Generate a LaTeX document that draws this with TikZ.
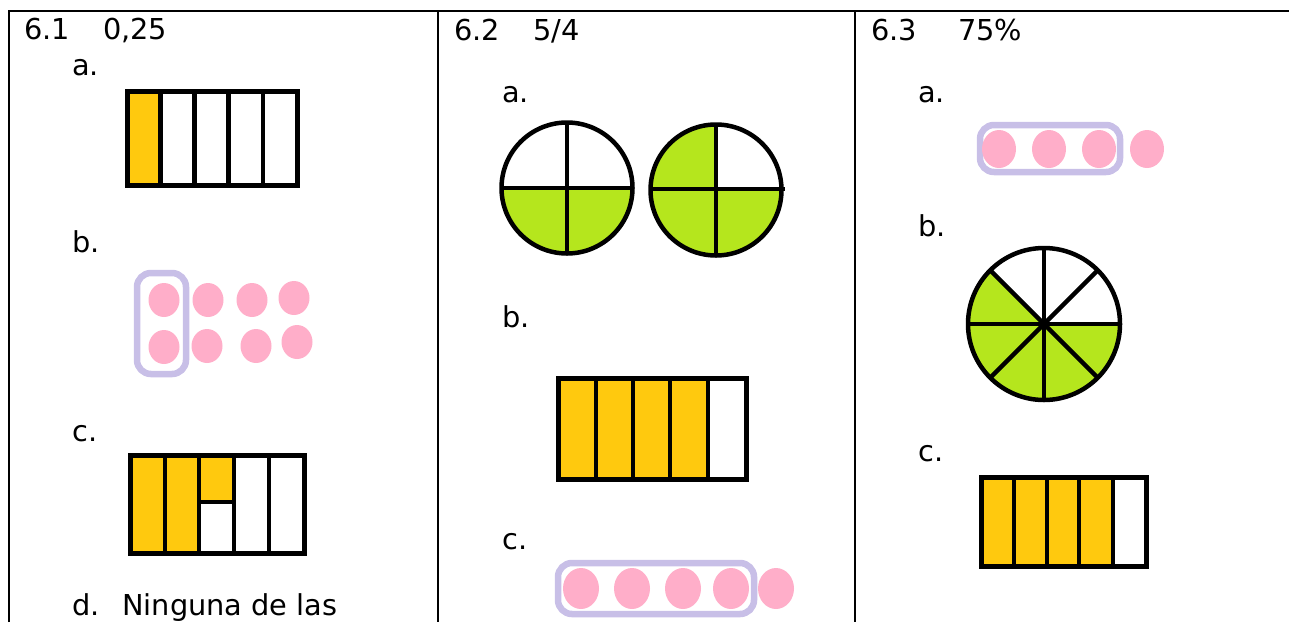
\documentclass[tikz,border=0pt]{standalone}
\usepackage{fontspec}
\setmainfont{DejaVu Sans}
\definecolor{yel}{HTML}{FFC90E}
\definecolor{grn}{HTML}{B5E61D}
\definecolor{pnk}{HTML}{FFAEC9}
\definecolor{lav}{HTML}{C8BFE7}
\begin{document}
\begin{tikzpicture}[x=1pt,y=-1pt,
  txt/.style={anchor=base west,inner sep=0pt,font=\fontsize{28.8}{31}\selectfont},
  grid/.style={line width=2.2pt,black},
  barline/.style={line width=4.8pt,black},
  outline/.style={line width=5.5pt,black},
  circline/.style={line width=4.5pt,black},
  frame/.style={line width=6.5pt,lav,rounded corners=14pt},
  dot/.style={fill=pnk}]
\useasboundingbox (0,0) rectangle (1289,622);
% table grid
\draw[grid] (9,622) -- (9,11) -- (1289,11);
\draw[grid] (438,11) -- (438,622);
\draw[grid] (855,11) -- (855,622);

% ---------- column 1 ----------
\node[txt] (h1a) at (24,39) {6.1};
\node[txt] (h1b) at (103,39) {0,25};
\node[txt] (l1a) at (72,75) {a.};
\node[txt] (l1b) at (72,252) {b.};
\node[txt] (l1c) at (72,441) {c.};
\node[txt] (l1d) at (72,615) {d.};
\node[txt] (l1dt) at (122,615) {Ninguna de las};

% bar 6.1a
\fill[yel] (127.5,91.5) rectangle (160.5,185.5);
\foreach \x in {160.5,194.7,228.8,263} \draw[barline] (\x,91.5) -- (\x,185.5);
\draw[outline] (127.5,91.5) rectangle (297.5,185.5);

% dots 6.1b
\draw[frame] (137,273) rectangle (186,374);
\foreach \p in {(164,300),(208,300),(252,300),(294,298),(164,347),(207,346),(256,346),(297,342)}
  \fill[dot] \p ellipse [x radius=15.5, y radius=17];

% bar 6.1c
\fill[yel] (130.5,455.5) rectangle (199,553.5);
\fill[yel] (199,455.5) rectangle (234,502);
\foreach \x in {165,199,234,269} \draw[barline] (\x,455.5) -- (\x,553.5);
\draw[barline] (199,502) -- (234,502);
\draw[outline] (130.5,455.5) rectangle (304.5,553.5);

% ---------- column 2 ----------
\node[txt] (h2a) at (454,40) {6.2};
\node[txt] (h2b) at (533,40) {5/4};
\node[txt] (l2a) at (502,102) {a.};
\node[txt] (l2b) at (502,327) {b.};
\node[txt] (l2c) at (502,549) {c.};

% circles 6.2a
\fill[grn] (567,188) -- ++(0:65.5) arc[start angle=0,end angle=180,radius=65.5] -- cycle;
\draw[circline] (567,188) circle [radius=65.5];
\draw[circline] (501.5,188) -- (632.5,188);
\draw[circline] (567,122.5) -- (567,253.5);

\fill[grn] (716,190) -- ++(0:65.5) arc[start angle=0,end angle=270,radius=65.5] -- cycle;
\draw[circline] (716,190) circle [radius=65.5];
\draw[circline] (650.5,189) -- (785,189);
\draw[circline] (716,124.5) -- (716,255.5);

% bar 6.2b
\fill[yel] (558.5,378.5) rectangle (708,479.5);
\foreach \x in {596,633,670,708} \draw[barline] (\x,378.5) -- (\x,479.5);
\draw[outline] (558.5,378.5) rectangle (746.5,479.5);

% dots 6.2c
\draw[frame] (558,563) rectangle (754,614);
\foreach \x in {581,632,683,731,776}
  \fill[dot] (\x,588.5) ellipse [x radius=18, y radius=20.5];

% ---------- column 3 ----------
\node[txt] (h3a) at (871,40) {6.3};
\node[txt] (h3b) at (958,40) {75\%};
\node[txt] (l3a) at (918,102) {a.};
\node[txt] (l3b) at (918,236) {b.};
\node[txt] (l3c) at (918,461) {c.};

% dots 6.3a
\draw[frame] (980,125) rectangle (1120,172);
\foreach \x in {999,1049,1099,1147}
  \fill[dot] (\x,149) ellipse [x radius=17, y radius=19];

% circle 6.3b
\fill[grn] (1044,324) -- ++(0:76) arc[start angle=0,end angle=225,radius=76] -- cycle;
\foreach \a in {0,45,...,315} \draw[circline] (1044,324) -- ++(\a:76);
\draw[circline] (1044,324) circle [radius=76];

% bar 6.3c
\fill[yel] (981.5,477.5) rectangle (1113,566.5);
\foreach \x in {1014,1047,1079,1113} \draw[barline] (\x,477.5) -- (\x,566.5);
\draw[outline] (981.5,477.5) rectangle (1146.5,566.5);
\end{tikzpicture}
\end{document}
